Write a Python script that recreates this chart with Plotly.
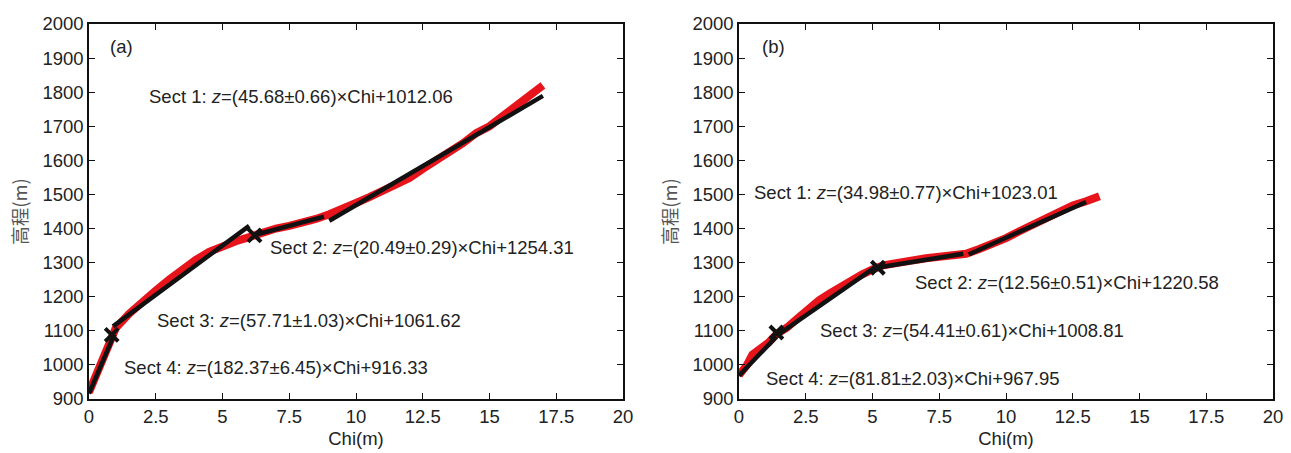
import plotly.graph_objects as go

# ---------------- data ----------------
# Panel (a): river profile (chi vs elevation)
chi_a = [0, 0.2, 0.4, 0.6, 0.85, 1.0, 1.5, 2.0, 2.5, 3.0, 3.5, 4.0, 4.5, 5.0, 5.5, 6.0,
         6.5, 7.0, 7.5, 8.0, 8.5, 9.0, 9.5, 10.0, 10.5, 11.0, 11.5, 12.0, 12.5, 13.0,
         13.5, 14.0, 14.5, 15.0, 15.5, 16.0, 16.5, 17.0]
z_a = [920, 960, 1000, 1040, 1085, 1108, 1150, 1186, 1218, 1250, 1280, 1308, 1332, 1350,
       1363, 1375, 1390, 1400, 1408, 1416, 1428, 1442, 1456, 1475, 1492, 1510, 1530, 1548,
       1575, 1600, 1622, 1650, 1680, 1700, 1730, 1760, 1790, 1820]
# fitted segments (start/end chi, start/end z)
seg_a_chi = [[0, 0.95], [0.9, 6.0], [6.1, 8.8], [9.0, 17.0]]
seg_a_z = [[916, 1090], [1113, 1408], [1379, 1435], [1423, 1789]]
knick_a_chi = [0.85, 6.2]
knick_a_z = [1088, 1380]
labels_a = ["Sect 1: <i>z</i>=(45.68±0.66)×Chi+1012.06",
            "Sect 2: <i>z</i>=(20.49±0.29)×Chi+1254.31",
            "Sect 3: <i>z</i>=(57.71±1.03)×Chi+1061.62",
            "Sect 4: <i>z</i>=(182.37±6.45)×Chi+916.33"]

# Panel (b)
chi_b = [0, 0.3, 0.5, 0.8, 1.1, 1.4, 1.8, 2.2, 2.6, 3.0, 3.4, 3.8, 4.2, 4.6, 5.0, 5.4,
         6.0, 6.5, 7.0, 7.5, 8.0, 8.5, 9.0, 9.5, 10.0, 10.5, 11.0, 11.5, 12.0, 12.5,
         13.0, 13.5]
z_b = [970, 1000, 1030, 1045, 1065, 1090, 1110, 1137, 1165, 1190, 1210, 1230, 1250,
       1265, 1280, 1292, 1300, 1308, 1313, 1317, 1322, 1326, 1340, 1355, 1372, 1392,
       1412, 1430, 1450, 1468, 1480, 1495]
seg_b_chi = [[0, 1.4], [1.4, 5.2], [5.2, 8.4], [8.6, 13.0]]
seg_b_z = [[968, 1083], [1085, 1292], [1286, 1326], [1324, 1478]]
knick_b_chi = [1.4, 5.2]
knick_b_z = [1095, 1285]
labels_b = ["Sect 1: <i>z</i>=(34.98±0.77)×Chi+1023.01",
            "Sect 2: <i>z</i>=(12.56±0.51)×Chi+1220.58",
            "Sect 3: <i>z</i>=(54.41±0.61)×Chi+1008.81",
            "Sect 4: <i>z</i>=(81.81±2.03)×Chi+967.95"]

x_ticks = [0, 2.5, 5, 7.5, 10, 12.5, 15, 17.5, 20]
y_ticks = list(range(900, 2001, 100))

# ---------------- figure ----------------
FONT = "Liberation Sans, Arial, sans-serif"
TXT = "#222222"
FS = 18.5
fig = go.Figure()

def add_panel(xa, ya, chi, z, seg_chi, seg_z, kchi, kz):
    fig.add_trace(go.Scatter(x=chi, y=z, mode="lines", xaxis=xa, yaxis=ya,
                             line=dict(color="#e8141c", width=8), showlegend=False))
    for sc, sz in zip(seg_chi, seg_z):
        fig.add_trace(go.Scatter(x=sc, y=sz, mode="lines", xaxis=xa, yaxis=ya,
                                 line=dict(color="#111111", width=4.5), showlegend=False))
    fig.add_trace(go.Scatter(x=kchi, y=kz, mode="markers", xaxis=xa, yaxis=ya,
                             marker=dict(symbol="x-thin", size=13, color="#111111",
                                         line=dict(width=4, color="#111111")),
                             showlegend=False))

add_panel("x", "y", chi_a, z_a, seg_a_chi, seg_a_z, knick_a_chi, knick_a_z)
add_panel("x2", "y2", chi_b, z_b, seg_b_chi, seg_b_z, knick_b_chi, knick_b_z)

pos_a = [(2.17, 1786), (6.7, 1343), (2.47, 1129), (1.24, 991)]
pos_b = [(0.49, 1507), (6.52, 1243), (2.96, 1102), (0.94, 959)]
for (x, y), t in zip(pos_a, labels_a):
    fig.add_annotation(x=x, y=y, xref="x", yref="y", text=t, showarrow=False,
                       xanchor="left", yanchor="middle", font=dict(size=FS, color=TXT))
for (x, y), t in zip(pos_b, labels_b):
    fig.add_annotation(x=x, y=y, xref="x2", yref="y2", text=t, showarrow=False,
                       xanchor="left", yanchor="middle", font=dict(size=FS, color=TXT))
fig.add_annotation(x=0.71, y=1933, xref="x", yref="y", text="(a)", showarrow=False,
                   xanchor="left", yanchor="middle", font=dict(size=FS, color=TXT))
fig.add_annotation(x=0.79, y=1933, xref="x2", yref="y2", text="(b)", showarrow=False,
                   xanchor="left", yanchor="middle", font=dict(size=FS, color=TXT))

xcommon = dict(range=[0, 20], tickvals=x_ticks, ticktext=[f"{v:g}" for v in x_ticks],
               ticks="inside", ticklen=6, tickcolor="#111", mirror="ticks",
               showline=True, linecolor="#111", linewidth=1.5, showgrid=False,
               zeroline=False, automargin=False, tickfont=dict(size=FS, color=TXT),
               title=dict(text="Chi(m)", font=dict(size=FS, color=TXT), standoff=6))
ycommon = dict(range=[900, 2000], tickvals=y_ticks, ticks="inside", ticklen=6,
               tickcolor="#111", mirror="ticks", showline=True, linecolor="#111",
               linewidth=1.5, showgrid=False, zeroline=False, automargin=False,
               tickfont=dict(size=FS, color=TXT),
               title=dict(text="高程(m)", font=dict(size=FS, color="#555555",
                          family="Noto Sans CJK SC, sans-serif"), standoff=10))

fig.update_layout(
    width=1291, height=453, margin=dict(l=0, r=0, t=0, b=0),
    paper_bgcolor="white", plot_bgcolor="white",
    font=dict(family=FONT, color=TXT),
    xaxis=dict(domain=[0.06894, 0.48257], anchor="y", **xcommon),
    yaxis=dict(domain=[0.11921, 0.94702], anchor="x", **ycommon),
    xaxis2=dict(domain=[0.57243, 0.98606], anchor="y2", **xcommon),
    yaxis2=dict(domain=[0.11921, 0.94702], anchor="x2", **ycommon),
)

fig.write_html("out.html", config={"displayModeBar": False},
               post_script="document.body.style.margin='0';document.body.style.overflow='hidden';")
